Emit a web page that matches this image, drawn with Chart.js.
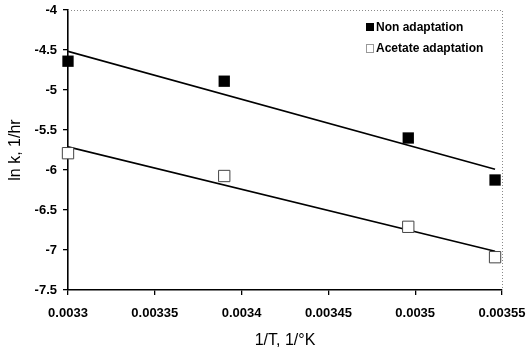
<!DOCTYPE html>
<html>
<head>
<meta charset="utf-8">
<script src="https://cdn.jsdelivr.net/npm/chart.js@4"></script>
<style>
  html, body { margin: 0; padding: 0; background: #fff; }
  #wrap { width: 529px; height: 350px; }
</style>
</head>
<body>
<div id="wrap"><canvas id="chartCanvas"></canvas></div>
<script>
// 1/T values (1/K) and ln k values
const invT = [0.0033, 0.00339, 0.003496, 0.003546];
const nonAdaptation = [-4.64, -4.89, -5.6, -6.125];
const acetateAdaptation = [-5.79, -6.075, -6.71, -7.09];
const seriesNames = ['Non adaptation', 'Acetate adaptation'];
const xTicks = [0.0033, 0.00335, 0.0034, 0.00345, 0.0035, 0.00355];
const yTicks = [-4, -4.5, -5, -5.5, -6, -6.5, -7, -7.5];

const points = (ys) => invT.map((x, i) => ({ x: x, y: ys[i] }));

// least squares trendline over the data range, like the spreadsheet did
function trend(ys) {
    const n = invT.length;
    const mx = invT.reduce((a, b) => a + b, 0) / n;
    const my = ys.reduce((a, b) => a + b, 0) / n;
    let sxy = 0, sxx = 0;
    invT.forEach((x, i) => { sxy += (x - mx) * (ys[i] - my); sxx += (x - mx) * (x - mx); });
    const b = sxy / sxx;
    const x0 = Math.min(...invT), x1 = Math.max(...invT);
    return [{ x: x0, y: my + b * (x0 - mx) }, { x: x1, y: my + b * (x1 - mx) }];
}

const frameAndLegend = {
    id: 'frameAndLegend',
    afterDraw(chart) {
        const { ctx, chartArea: a } = chart;
        ctx.save();
        // dotted top and right frame
        ctx.strokeStyle = '#8a8a8a';
        ctx.lineWidth = 1;
        ctx.setLineDash([1, 2]);
        ctx.beginPath();
        ctx.moveTo(a.left, a.top + 0.5);
        ctx.lineTo(a.right + 0.5, a.top + 0.5);
        ctx.lineTo(a.right + 0.5, a.bottom);
        ctx.stroke();
        ctx.setLineDash([]);

        // legend inside the plot
        ctx.font = 'bold 12px "Liberation Sans", Arial, sans-serif';
        ctx.textBaseline = 'middle';
        ctx.fillStyle = '#000';
        ctx.fillRect(366, 23, 8, 8);
        ctx.fillText(seriesNames[0], 376, 28);
        ctx.strokeStyle = '#333';
        ctx.setLineDash([1, 1]);
        ctx.strokeRect(366.5, 44.5, 7, 8);
        ctx.setLineDash([]);
        ctx.fillText(seriesNames[1], 376, 49);
        ctx.restore();
    }
};

const tickFont = { family: '"Liberation Sans", Arial, sans-serif', size: 13, weight: 'bold' };
const titleFont = { family: '"Liberation Sans", Arial, sans-serif', size: 16 };

new Chart(document.getElementById('chartCanvas'), {
    type: 'scatter',
    data: {
        datasets: [
            {
                label: seriesNames[0],
                data: points(nonAdaptation),
                pointStyle: 'rect',
                pointRadius: 8,
                backgroundColor: '#000',
                borderColor: '#000',
                borderWidth: 0,
                clip: false
            },
            {
                label: seriesNames[1],
                data: points(acetateAdaptation),
                pointStyle: 'rect',
                pointRadius: 8,
                backgroundColor: '#fff',
                borderColor: '#444',
                borderWidth: 1,
                clip: false
            },
            {
                type: 'line',
                data: trend(nonAdaptation),
                borderColor: '#000',
                borderWidth: 1.6,
                pointRadius: 0,
                fill: false
            },
            {
                type: 'line',
                data: trend(acetateAdaptation),
                borderColor: '#000',
                borderWidth: 1.6,
                pointRadius: 0,
                fill: false
            }
        ]
    },
    options: {
        responsive: true,
        maintainAspectRatio: false,
        animation: false,
        layout: { padding: { top: 10, right: 27, left: 0, bottom: 0 } },
        plugins: {
            legend: { display: false },
            tooltip: { enabled: false }
        },
        scales: {
            x: {
                type: 'linear',
                min: 0.0033,
                max: 0.00355,
                afterBuildTicks: (s) => { s.ticks = xTicks.map(v => ({ value: v })); },
                afterFit: (s) => { s.height = 60; s.paddingLeft = 0; s.paddingRight = 0; },
                grid: { drawOnChartArea: false, drawTicks: true, tickLength: 5, color: '#000', lineWidth: 1.3 },
                border: { color: '#000', width: 1.6 },
                ticks: {
                    color: '#000',
                    font: tickFont,
                    padding: 11,
                    maxRotation: 0,
                    callback: (v) => String(Number(v.toFixed(6)))
                },
                title: {
                    display: true,
                    text: '1/T, 1/°K',
                    color: '#000',
                    font: titleFont,
                    padding: 0
                }
            },
            y: {
                type: 'linear',
                min: -7.5,
                max: -4,
                afterBuildTicks: (s) => { s.ticks = yTicks.map(v => ({ value: v })); },
                afterFit: (s) => { s.width = 68; s.paddingTop = 0; s.paddingBottom = 0; },
                grid: { drawOnChartArea: false, drawTicks: true, tickLength: 5, color: '#000', lineWidth: 1.3 },
                border: { color: '#000', width: 1.6 },
                ticks: {
                    color: '#000',
                    font: tickFont,
                    padding: 6,
                    callback: (v) => String(v)
                },
                title: {
                    display: true,
                    text: 'ln k, 1/hr',
                    color: '#000',
                    font: titleFont,
                    padding: { top: 6, bottom: 0 }
                }
            }
        }
    },
    plugins: [frameAndLegend]
});
</script>
</body>
</html>
